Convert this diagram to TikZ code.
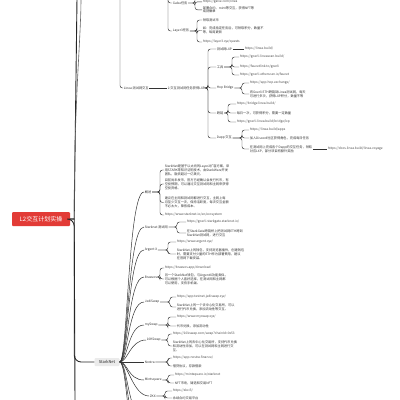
\documentclass[tikz,border=0pt]{standalone}
\usepackage{fontspec}
\setmainfont{Noto Sans CJK SC}
\usetikzlibrary{calc}
\definecolor{rootred}{HTML}{E23B36}
\tikzset{
  ln/.style={draw=black!80, line width=0.45pt, rounded corners=2.5pt},
  spine/.style={draw=black!85, line width=0.9pt},
  fan/.style={draw=black!80, line width=0.5pt},
  t/.style={anchor=west, inner sep=0.6pt, font=\fontsize{3.2}{3.9}\selectfont, text=black!80, align=left},
  lk/.style={t, text=black!70},
  rootbox/.style={fill=rootred, text=white, rounded corners=1pt, minimum width=58pt, minimum height=14pt, inner sep=1pt, font=\fontsize{6}{7}\selectfont},
  snode/.style={fill=black!8, rounded corners=1pt, minimum width=25pt, minimum height=8pt, inner sep=1pt, font=\fontsize{4}{5}\selectfont, text=black!85},
}
\newcommand\brc[3]{\draw[ln] let \p1=(#1.east) in (#1.east) -- (#2pt,\y1) |- (#3.west);}
\newcommand\fanto[2]{\draw[fan] (#1.east) .. controls +(8,0) and +(-16,0) .. (#2.west);}
\begin{document}
\begin{tikzpicture}[x=1pt,y=-1pt]
\useasboundingbox (0,0) rectangle (400,400);
\fill[white] (0,0) rectangle (400,400);
\clip (0,0) rectangle (400,400);

% root
\node[rootbox] (r) at (41,219) {L2交互计划实操};
\coordinate (upA) at (77,-2);
\coordinate (upB) at (81,-2);
\coordinate (downA) at (75,402);
\draw[spine] (r.east) -- ++(4,0) -- (upA);
\draw[spine, draw=black!60, line width=0.6pt] (r.east) -- ++(4,0) .. controls (74,100) and (81,40) .. (upB);
\draw[spine] (r.east) -- ++(4,0) -- (downA);

% ---------------- top part
\coordinate (topH) at (168,-2);
\node[t] (h1) at (172,3) {Galxe任务};
\node[lk] (h1a) at (202,1.8) {https://galxe.com/linea};
\node[t] (h1b) at (202,9.8) {部署合约、mint等交互，获得NFT等\\成就徽章};
\draw[ln] (topH) |- (h1.west);
\brc{h1}{195}{h1a}
\brc{h1}{195}{h1b}

\node[t] (h2) at (172,31) {Layer3任务};
\node[t] (h2a) at (202,20) {领取测试币};
\node[t] (h2b) at (202,30.5) {如：完成指定任务后，可领取积分，数量不\\等，每周更新};
\node[lk] (h2c) at (202,42) {https://layer3.xyz/quests};
\draw[ln] (topH) |- (h2.west);
\brc{h2}{197}{h2a}
\brc{h2}{197}{h2b}
\brc{h2}{197}{h2c}

% ---------------- Linea
\coordinate (topL) at (120,-2);
\node[t] (L1) at (123,88) {Linea 测试网交互};
\node[t] (L2) at (167,88) {2.交互测试网任务获得LXP};
\draw[ln] (topL) |- (L1.west);
\draw[ln] (L1.east) -- (L2.west);

\node[t] (a) at (216,49) {测试网LXP};
\node[lk] (a1) at (244,49) {https://linea.build/};
\draw[ln, line width=0.7pt] (a.east) -- (a1.west);

\node[t] (b) at (216,67) {工具};
\node[lk] (b1) at (239,57) {https://goerli.lineascan.build/};
\node[lk] (b2) at (239,67) {https://faucetlink.to/goerli};
\node[lk] (b3) at (239,75) {https://goerli.etherscan.io/faucet};
\brc{b}{232}{b1}
\brc{b}{232}{b2}
\brc{b}{232}{b3}

\node[t] (c) at (216,88) {Hop Bridge};
\node[lk] (c1) at (249,83) {https://app.hop.exchange/};
\node[t] (c2) at (249,94) {将Goerli ETH跨链到Linea测试网，每天\\可进行多次，获得LXP积分，数量不等};
\brc{c}{242}{c1}
\brc{c}{242}{c2}

\node[t] (d) at (216,113) {跨链};
\node[lk] (d1) at (236,104) {https://bridge.linea.build/};
\node[t] (d2) at (236,113) {每日一次，可获得积分，需要一定数量};
\node[lk] (d3) at (236,122) {https://goerli.linea.build/bridge/lxp};
\brc{d}{228}{d1}
\brc{d}{228}{d2}
\brc{d}{228}{d3}

\node[t] (e) at (216,138) {Dapp 交互};
\node[lk] (e1) at (249,130) {https://linea.build/apps};
\node[t] (e2) at (249,138) {加入Discord社区获得角色，完成每日任务};
\node[t] (e3) at (249,149) {在测试网上完成各个Dapp的交互任务，领取\\对应LXP，部分项目有额外奖励};
\node[lk] (e4) at (327,149) {https://docs.linea.build/linea-voyage};
\brc{e}{242}{e1}
\brc{e}{242}{e2}
\brc{e}{242}{e3}
\draw[ln] (e3.east) -- (e4.west);

\brc{L2}{208}{a}
\brc{L2}{208}{b}
\brc{L2}{208}{c}
\brc{L2}{208}{d}
\brc{L2}{208}{e}

% ---------------- StarkNet
\node[snode] (S) at (107,362) {StarkNet};
\draw[spine, rounded corners=7pt] (r.east) -- ++(4,0) |- (S.west);

\node[t] (k1) at (144,192) {概述};
\node[t] (k2) at (144,227) {Starknet 测试网};
\node[t] (k3) at (144,250) {Argent X};
\node[t] (k4) at (144,277) {Braavos};
\node[t] (k5) at (144,302) {JediSwap};
\node[t] (k6) at (144,325) {mySwap};
\node[t] (k7) at (146,340) {10KSwap};
\node[t] (k8) at (144,362) {Nostra};
\node[t] (k9) at (144,380) {Mintsquare};
\node[t] (k10) at (149,396) {ZKX};
\coordinate (kx1) at (144,418);
\coordinate (kx2) at (144,440);
\coordinate (kx3) at (144,465);

\fanto{S}{k1}
\fanto{S}{k2}
\fanto{S}{k3}
\fanto{S}{k4}
\fanto{S}{k5}
\fanto{S}{k6}
\fanto{S}{k7}
\draw[fan] (S.east) -- (k8.west);
\fanto{S}{k9}
\fanto{S}{k10}
\draw[fan] (S.east) .. controls +(8,0) and +(-16,0) .. (kx1);
\draw[fan] (S.east) .. controls +(8,0) and +(-16,0) .. (kx2);
\draw[fan] (S.east) .. controls +(8,0) and +(-16,0) .. (kx3);

% 概述
\node[t] (g11) at (164,170) {StarkNet是基于以太坊的Layer2扩容方案，采\\用STARK零知识证明技术，由StarkWare开发\\团队，融资超过一亿美元。};
\node[t] (g12) at (164,184) {目前尚未发币，官方已经确认会发行代币，有\\空投预期，可以通过交互测试网和主网来获得\\空投资格。};
\node[t] (g13) at (164,202.5) {建议在主网和测试网都进行交互，主网上每\\月至少交互一次，保持活跃度，每次交互金额\\不必太大，降低成本。};
\node[lk] (g14) at (164,215) {https://www.starknet.io/en/ecosystem};
\brc{k1}{160}{g11}
\brc{k1}{160}{g12}
\brc{k1}{160}{g13}
\brc{k1}{160}{g14}

% 测试网
\node[lk] (g21) at (186,222) {https://goerli.starkgate.starknet.io/};
\node[t] (g22) at (186,233) {在StarkGate跨链桥上把测试网ETH跨到\\StarkNet测试网，进行交互};
\brc{k2}{177}{g21}
\brc{k2}{177}{g22}

% Argent X
\node[lk] (g31) at (176,242) {https://www.argent.xyz/};
\node[t] (g32) at (176,254) {StarkNet上的钱包，支持浏览器插件，创建钱包\\时，需要支付少量的ETH作为部署费用，建议\\在官网下载安装。};
\brc{k3}{168}{g31}
\brc{k3}{168}{g32}

% Braavos
\node[lk] (g41) at (164,268) {https://braavos.app/download};
\node[t] (g42) at (164,279) {另一个StarkNet钱包，与ArgentX功能类似，\\可以根据个人喜好选择，在测试网和主网都\\可以使用，支持手机端。};
\brc{k4}{160}{g41}
\brc{k4}{160}{g42}

% JediSwap
\node[lk] (g51) at (176,297) {https://app.testnet.jediswap.xyz/};
\node[t] (g52) at (176,307) {StarkNet上的一个去中心化交易所，可以\\进行代币兑换，添加流动性等交互。};
\brc{k5}{170}{g51}
\brc{k5}{170}{g52}

% mySwap
\node[lk] (g61) at (176,317) {https://www.myswap.xyz/};
\node[t] (g62) at (176,326) {代币兑换，添加流动性};
\brc{k6}{168}{g61}
\brc{k6}{168}{g62}

% 10KSwap
\node[lk] (g71) at (172,334) {https://10kswap.com/swap?chainId=0x53};
\node[t] (g72) at (172,346) {StarkNet上的去中心化交易所，支持代币兑换\\和流动性添加，可以在测试网和主网进行交\\互。};
\brc{k7}{168}{g71}
\brc{k7}{168}{g72}

% Nostra
\node[lk] (g81) at (172,358) {https://app.nostra.finance/};
\node[t] (g82) at (172,366) {借贷协议，存款借款};
\brc{k8}{168}{g81}
\brc{k8}{168}{g82}

% Mintsquare
\node[lk] (g91) at (174,375) {https://mintsquare.io/starknet};
\node[t] (g92) at (174,383) {NFT市场，铸造和交易NFT};
\brc{k9}{168}{g91}
\brc{k9}{168}{g92}

% ZKX
\node[lk] (g101) at (172,391) {https://zkx.fi/};
\node[t] (g102) at (172,398) {永续合约交易平台};
\brc{k10}{165}{g101}
\brc{k10}{165}{g102}
\end{tikzpicture}
\end{document}
